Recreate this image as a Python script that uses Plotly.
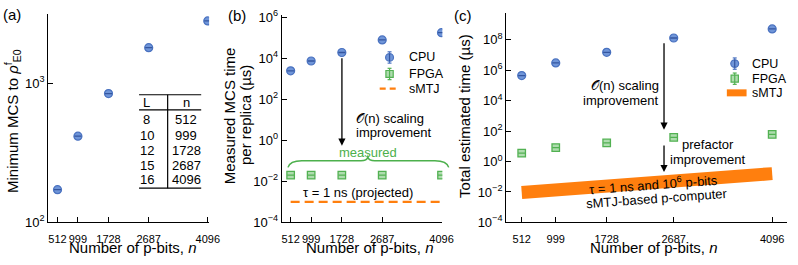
import plotly.graph_objects as go

# ---------------- data ----------------
n_bits = [512, 999, 1728, 2687, 4096]
L_vals = [8, 10, 12, 15, 16]
mcs_min = [172, 417, 844, 1807, 2812]
cpu_mcs_time = [2460, 7400, 19300, 79000, 178000]
fpga_mcs_time = [0.02, 0.02, 0.02, 0.02, 0.02]
smtj_n = [512, 4096]
smtj_mcs_time = [0.001, 0.001]
cpu_total = [4.4e5, 3.0e6, 1.5e7, 1.3e8, 5.1e8]
fpga_total = [3.5, 8.2, 16.6, 38, 60]
smtj_total = [0.0091, 0.16]
x_tick_labels = ["512", "999", "1728", "2687", "4096"]
ya_ticks = [100, 1000]
ya_text = ["10<sup>2</sup>", "10<sup>3</sup>"]
yb_ticks = [1e-4, 1e-2, 1, 1e2, 1e4, 1e6]
yb_text = ["10<sup>\u22124</sup>", "10<sup>\u22122</sup>", "10<sup>0</sup>",
           "10<sup>2</sup>", "10<sup>4</sup>", "10<sup>6</sup>"]
yc_ticks = [1e-4, 1e-2, 1, 1e2, 1e4, 1e6, 1e8]
yc_text = yb_text + ["10<sup>8</sup>"]
legend_labels = ["CPU", "FPGA", "sMTJ"]

W, H = 798, 265
FONT = "Liberation Sans, Arial, sans-serif"
BLUE_FILL = "#6f95d8"
BLUE_EDGE = "#4a72c0"
BLUE_DARK = "#34569f"
GREEN_FILL = "#aedcae"
GREEN_EDGE = "#52b152"
ORANGE = "#ff7f0e"


def PX(x):
    return x / W


def PY(y):
    return 1 - y / H


fig = go.Figure()


def cpu_traces(xa, ya, y):
    fig.add_trace(go.Scatter(
        x=n_bits, y=y, mode="markers", name="CPU", xaxis=xa, yaxis=ya,
        marker=dict(symbol="circle", size=8, color=BLUE_FILL,
                    line=dict(color=BLUE_EDGE, width=1.2)),
        showlegend=False))
    fig.add_trace(go.Scatter(
        x=n_bits, y=y, mode="markers", xaxis=xa, yaxis=ya, showlegend=False,
        hoverinfo="skip",
        marker=dict(symbol="line-ew", size=5,
                    line=dict(color=BLUE_DARK, width=1.3))))


def fpga_traces(xa, ya, y):
    fig.add_trace(go.Scatter(
        x=n_bits, y=y, mode="markers", name="FPGA", xaxis=xa, yaxis=ya,
        marker=dict(symbol="square", size=7.5, color=GREEN_FILL,
                    line=dict(color=GREEN_EDGE, width=1.3)),
        showlegend=False))
    fig.add_trace(go.Scatter(
        x=n_bits, y=y, mode="markers", xaxis=xa, yaxis=ya, showlegend=False,
        hoverinfo="skip",
        marker=dict(symbol="line-ew", size=5,
                    line=dict(color=GREEN_EDGE, width=1.3))))


# (a)
cpu_traces("x", "y", mcs_min)
# (b)
cpu_traces("x2", "y2", cpu_mcs_time)
fpga_traces("x2", "y2", fpga_mcs_time)
fig.add_trace(go.Scatter(
    x=smtj_n, y=smtj_mcs_time, mode="lines", name="sMTJ", xaxis="x2", yaxis="y2",
    line=dict(color=ORANGE, width=2.2, dash="9px,5px"), showlegend=False))
# (c)
cpu_traces("x3", "y3", cpu_total)
fpga_traces("x3", "y3", fpga_total)
fig.add_trace(go.Scatter(
    x=smtj_n, y=smtj_total, mode="lines", name="sMTJ", xaxis="x3", yaxis="y3",
    line=dict(color=ORANGE, width=13), showlegend=False))

axis_common = dict(showline=True, linecolor="black", linewidth=1.3,
                   ticks="inside", ticklen=5, tickwidth=1.2, tickcolor="black",
                   showgrid=False, zeroline=False, mirror=False)
xfont = dict(family=FONT, size=11, color="black")
yfont = dict(family=FONT, size=13, color="black")

ybot = PY(228.3)
fig.update_layout(
    width=W, height=H, margin=dict(l=0, r=0, t=0, b=0),
    paper_bgcolor="white", plot_bgcolor="white",
    font=dict(family=FONT, size=13, color="black"),
    showlegend=False,
    xaxis=dict(domain=[PX(49), PX(212)], range=[293, 4127], anchor="y",
               tickvals=n_bits, ticktext=x_tick_labels, tickangle=0,
               tickfont=xfont, ticklabelstandoff=6, **axis_common),
    yaxis=dict(domain=[ybot, PY(7)], type="log", range=[2, 3.502], anchor="x",
               tickvals=ya_ticks, ticktext=ya_text, tickfont=yfont, **axis_common),
    xaxis2=dict(domain=[PX(285.7), PX(448.5)], range=[301, 4115], anchor="y2",
                tickvals=n_bits, ticktext=x_tick_labels, tickangle=0,
                tickfont=xfont, ticklabelstandoff=6, **axis_common),
    yaxis2=dict(domain=[ybot, PY(9)], type="log", range=[-4, 6.09], anchor="x2",
                tickvals=yb_ticks, ticktext=yb_text, tickfont=yfont, **axis_common),
    xaxis3=dict(domain=[PX(513.3), 1.0], range=[290.5, 4308], anchor="y3",
                tickvals=n_bits, ticktext=x_tick_labels, tickangle=0,
                tickfont=xfont, ticklabelstandoff=6, **axis_common),
    yaxis3=dict(domain=[ybot, PY(6.7)], type="log", range=[-4, 9.736], anchor="x3",
                tickvals=yc_ticks, ticktext=yc_text, tickfont=yfont, **axis_common),
)

ann = []


def text(x, y, s, size=13, angle=0, xanchor="center", color="black", yanchor="middle"):
    ann.append(dict(x=PX(x), y=PY(y), xref="paper", yref="paper", text=s,
                    showarrow=False, xanchor=xanchor, yanchor=yanchor,
                    textangle=angle, borderpad=0,
                    font=dict(family=FONT, size=size, color=color)))


def arrow(x, y_tail, y_head):
    ann.append(dict(x=PX(x), y=PY(y_head), xref="paper", yref="paper", text="",
                    showarrow=True, ax=0, ay=y_tail - y_head, arrowhead=2,
                    arrowsize=1.1, arrowwidth=1.3, arrowcolor="black"))


# panel labels
text(12, 8, "(a)", 15)
text(240, 9, "(b)", 15)
text(469, 9, "(c)", 15)
# axis titles (bottom-anchored at the paper edge)
for cx in (135, 375, 663):
    text(cx, 265, "Number of p-bits, <i>n</i>", 15, yanchor="bottom")
text(12, 121, "Minimum MCS to <i>\u03c1</i><sup>f</sup><sub>E0</sub>", 15, angle=-90)
text(233, 115, "Measured MCS time", 15, angle=-90)
text(249, 115, "per replica (\u00b5s)", 15, angle=-90)
text(471, 116, "Total estimated time (\u00b5s)", 15, angle=-90)

# table in (a)
text(149, 101, "L")
text(189, 101, "n")
row_y = [119, 136, 152, 168, 183]
for Lv, nv, ry in zip(L_vals, n_bits, row_y):
    text(149, ry, str(Lv))
    text(189, ry, str(nv))

# (b) texts
text(360, 118, "\U0001D4AA(n) scaling", xanchor="left")
text(360, 133, "improvement", xanchor="left")
text(373, 154, "measured", color="#4cb04c")
text(363, 197, "\u03c4 = 1 ns (projected)")
# (c) texts
text(669, 83, "\U0001D4AA(n) scaling", xanchor="right")
text(669, 99, "improvement", xanchor="right")
text(718, 146, "prefactor")
text(718, 162, "improvement")
text(663, 188, "\u03c4 = 1 ns and 10<sup>6</sup> p-bits", angle=-4.2)
text(666, 203, "sMTJ-based p-computer", angle=-4.2)

arrow(346.7, 58, 147)
arrow(673.3, 42, 130)
arrow(673.3, 147, 175)


# shapes: table lines, brace and legend glyphs
def line(x0, y0, x1, y1, color="black", width=1.2, dash=None):
    d = dict(color=color, width=width)
    if dash:
        d["dash"] = dash
    return dict(type="line", xref="paper", yref="paper", x0=PX(x0), y0=PY(y0),
                x1=PX(x1), y1=PY(y1), line=d)


def circle(cx, cy, r, fill, edge):
    return dict(type="circle", xref="paper", yref="paper",
                x0=PX(cx - r), x1=PX(cx + r), y0=PY(cy + r), y1=PY(cy - r),
                fillcolor=fill, line=dict(color=edge, width=1.2))


def rect(cx, cy, r, fill, edge):
    return dict(type="rect", xref="paper", yref="paper",
                x0=PX(cx - r), x1=PX(cx + r), y0=PY(cy + r), y1=PY(cy - r),
                fillcolor=fill, line=dict(color=edge, width=1.2))


shapes = [
    line(141, 93, 204, 93),
    line(141, 109, 204, 109),
    line(141, 192, 204, 192),
    line(170, 93, 170, 192),
]


def p(x, y):
    return f"{PX(x):.5f},{PY(y):.5f}"


brace = ("M " + p(292, 170) + " Q " + p(294, 163) + " " + p(306, 163) +
         " L " + p(366, 163) + " Q " + p(372, 163) + " " + p(373, 159) +
         " Q " + p(374, 163) + " " + p(380, 163) + " L " + p(441, 163) +
         " Q " + p(453, 163) + " " + p(455, 170))
shapes.append(dict(type="path", xref="paper", yref="paper", path=brace,
                   line=dict(color="#4cb04c", width=1.5)))


def legend_block(mx, tx, ys, smtj_style):
    ycpu, yfpga, ysm = ys
    # CPU glyph: error bar + circle
    shapes.append(line(mx, ycpu - 6, mx, ycpu + 6, BLUE_EDGE, 1.2))
    shapes.append(line(mx - 2, ycpu - 6, mx + 2, ycpu - 6, BLUE_EDGE, 1.2))
    shapes.append(line(mx - 2, ycpu + 6, mx + 2, ycpu + 6, BLUE_EDGE, 1.2))
    shapes.append(circle(mx, ycpu, 4, BLUE_FILL, BLUE_EDGE))
    shapes.append(line(mx, ycpu - 4, mx, ycpu + 4, BLUE_DARK, 1.2))
    # FPGA glyph
    shapes.append(line(mx, yfpga - 6, mx, yfpga + 6, GREEN_EDGE, 1.2))
    shapes.append(line(mx - 2, yfpga - 6, mx + 2, yfpga - 6, GREEN_EDGE, 1.2))
    shapes.append(line(mx - 2, yfpga + 6, mx + 2, yfpga + 6, GREEN_EDGE, 1.2))
    shapes.append(rect(mx, yfpga, 3.7, GREEN_FILL, GREEN_EDGE))
    shapes.append(line(mx, yfpga - 3.7, mx, yfpga + 3.7, GREEN_EDGE, 1.2))
    # sMTJ glyph
    if smtj_style == "dash":
        shapes.append(line(mx - 10, ysm, mx + 10, ysm, ORANGE, 2.2, "6px,4px"))
    else:
        shapes.append(line(mx - 8, ysm, mx + 12, ysm, ORANGE, 7))
    for lab, yy in zip(legend_labels, ys):
        text(tx, yy, lab, 12.5, xanchor="left")


legend_block(395, 414, (53.5, 71, 86.5), "dash")
legend_block(745, 762, (60, 76, 91), "bar")

fig.update_layout(annotations=ann, shapes=shapes)

fig.write_html("out.html")
